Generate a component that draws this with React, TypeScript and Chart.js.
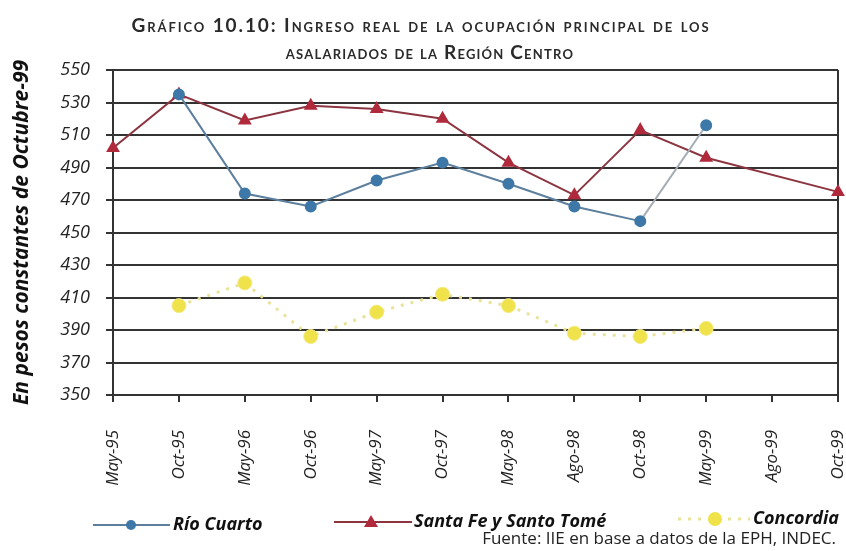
import React, { useEffect, useRef } from 'react';
import { Chart, registerables } from 'chart.js';

Chart.register(...registerables);

const categories = ['May-95', 'Oct-95', 'May-96', 'Oct-96', 'May-97', 'Oct-97', 'May-98', 'Ago-98', 'Oct-98', 'May-99', 'Ago-99', 'Oct-99'];
const rioCuarto = [null, 535, 474, 466, 482, 493, 480, 466, 457, 516, null, null];
const santaFe = [502, 535, 519, 528, 526, 520, 493, 473, 513, 496, null, 475];
const concordia = [null, 405, 419, 386, 401, 412, 405, 388, 386, 391, null, null];
const yMin = 350;
const yMax = 550;
const yStep = 20;
const titleLines = ['Gráfico 10.10: Ingreso real de la ocupación principal de los', 'asalariados de la Región Centro'];
const yTitle = 'En pesos constantes de Octubre-99';
const seriesNames = ['Río Cuarto', 'Santa Fe y Santo Tomé', 'Concordia'];
const sourceText = 'Fuente: IIE en base a datos de la EPH, INDEC.';

const BLUE = '#3d78a8';
const BLUE_LINE = '#5b7f9c';
const RED = '#b02a3c';
const RED_LINE = '#8c3540';
const YEL = '#efe24a';
const YEL_LINE = '#e9e39a';
const GRID = '#333333';
const LABEL_FONT = '"Open Sans", sans-serif';

const framePlugin = {
  id: 'frame',
  beforeDatasetsDraw(chart: any) {
    const { ctx, chartArea: a } = chart;
    ctx.save();
    ctx.strokeStyle = GRID;
    ctx.lineWidth = 2;
    ctx.beginPath();
    ctx.moveTo(a.right, a.top);
    ctx.lineTo(a.right, a.bottom);
    ctx.stroke();
    ctx.restore();
  },
};

export default function App() {
  const ref = useRef<HTMLCanvasElement | null>(null);

  useEffect(() => {
    if (!ref.current) return;
    const chart = new Chart(ref.current, {
      type: 'line',
      data: {
        labels: categories,
        datasets: [
          {
            label: seriesNames[2],
            data: concordia,
            borderColor: YEL_LINE,
            borderWidth: 3,
            borderDash: [3, 7],
            pointStyle: 'circle',
            pointRadius: 7,
            pointBackgroundColor: YEL,
            pointBorderColor: '#f3ea80',
            pointBorderWidth: 1,
            clip: false,
          },
          {
            label: seriesNames[0],
            data: rioCuarto,
            borderColor: BLUE_LINE,
            borderWidth: 2,
            segment: {
              borderColor: (c: any) => (c.p0DataIndex === 8 ? '#a4adb6' : BLUE_LINE),
            },
            pointStyle: 'circle',
            pointRadius: 5,
            pointBackgroundColor: BLUE,
            pointBorderColor: BLUE,
            clip: false,
          },
          {
            label: seriesNames[1],
            data: santaFe,
            borderColor: RED_LINE,
            borderWidth: 2,
            spanGaps: true,
            pointStyle: 'triangle',
            pointRadius: 6,
            pointBackgroundColor: RED,
            pointBorderColor: RED,
            clip: false,
          },
        ],
      },
      options: {
        responsive: false,
        animation: false,
        devicePixelRatio: 1,
        layout: { padding: { left: 0, top: 70, right: 8, bottom: 46 } },
        plugins: {
          legend: { display: false },
          title: { display: false },
          tooltip: { enabled: false },
        },
        scales: {
          x: {
            type: 'category',
            offset: false,
            grid: { drawOnChartArea: false, drawTicks: true, tickLength: 7, color: GRID, lineWidth: 2 },
            border: { display: true, color: GRID, width: 2 },
            ticks: {
              autoSkip: false,
              maxRotation: 90,
              minRotation: 90,
              padding: 28,
              color: '#222',
              font: { family: LABEL_FONT, size: 17, style: 'italic' },
            },
            afterFit: (s: any) => {
              s.height = 110;
              s.paddingLeft = 0;
              s.paddingRight = 0;
            },
          },
          y: {
            min: yMin,
            max: yMax,
            ticks: {
              stepSize: yStep,
              padding: 16,
              color: '#222',
              font: { family: LABEL_FONT, size: 18, style: 'italic' },
            },
            grid: { color: GRID, lineWidth: 2, tickLength: 7 },
            border: { display: true, color: GRID, width: 2 },
            title: {
              display: true,
              text: yTitle,
              color: '#111',
              padding: { top: 9, bottom: 0 },
              font: { family: LABEL_FONT, size: 21, style: 'italic', weight: 'bold' },
            },
            afterFit: (s: any) => {
              s.width = 113;
            },
          },
        },
      },
      plugins: [framePlugin],
    });
    return () => chart.destroy();
  }, []);

  const legendText: React.CSSProperties = {
    position: 'absolute',
    font: `italic 700 18px ${LABEL_FONT}`,
    color: '#111',
    whiteSpace: 'nowrap',
  };

  return (
    <div style={{ position: 'fixed', left: 0, top: 0, width: 846, height: 551, background: '#fff' }}>
      <canvas ref={ref} width={846} height={551} style={{ position: 'absolute', left: 0, top: 0 }} />
      <div
        style={{
          position: 'absolute',
          left: 0,
          top: 11,
          width: 846,
          textAlign: 'center',
          fontFamily: 'Lato, sans-serif',
          fontVariant: 'small-caps',
          fontWeight: 700,
          fontSize: 19,
          lineHeight: '27px',
          color: '#2a2a2a',
        }}
      >
        <div style={{ paddingRight: 4, letterSpacing: '1.9px' }}>{titleLines[0]}</div>
        <div style={{ paddingLeft: 14, letterSpacing: '1.2px' }}>{titleLines[1]}</div>
      </div>
      <svg width={846} height={551} style={{ position: 'absolute', left: 0, top: 0, pointerEvents: 'none' }}>
        <line x1={93} y1={525} x2={170} y2={525} stroke={BLUE_LINE} strokeWidth={2} />
        <circle cx={131} cy={525} r={5} fill={BLUE} />
        <line x1={334} y1={522} x2={412} y2={522} stroke={RED_LINE} strokeWidth={2} />
        <polygon points="371,515 378,527 364,527" fill={RED} />
        <line x1={678} y1={519} x2={750} y2={519} stroke={YEL_LINE} strokeWidth={3} strokeDasharray="3 7" />
        <circle cx={715} cy={519} r={7} fill={YEL} />
      </svg>
      <div style={{ ...legendText, left: 173, top: 511 }}>{seriesNames[0]}</div>
      <div style={{ ...legendText, left: 414, top: 508 }}>{seriesNames[1]}</div>
      <div style={{ ...legendText, left: 753, top: 505 }}>{seriesNames[2]}</div>
      <div
        style={{
          position: 'absolute',
          right: 10,
          top: 526,
          font: `17px ${LABEL_FONT}`,
          color: '#222',
          whiteSpace: 'nowrap',
        }}
      >
        {sourceText}
      </div>
    </div>
  );
}
